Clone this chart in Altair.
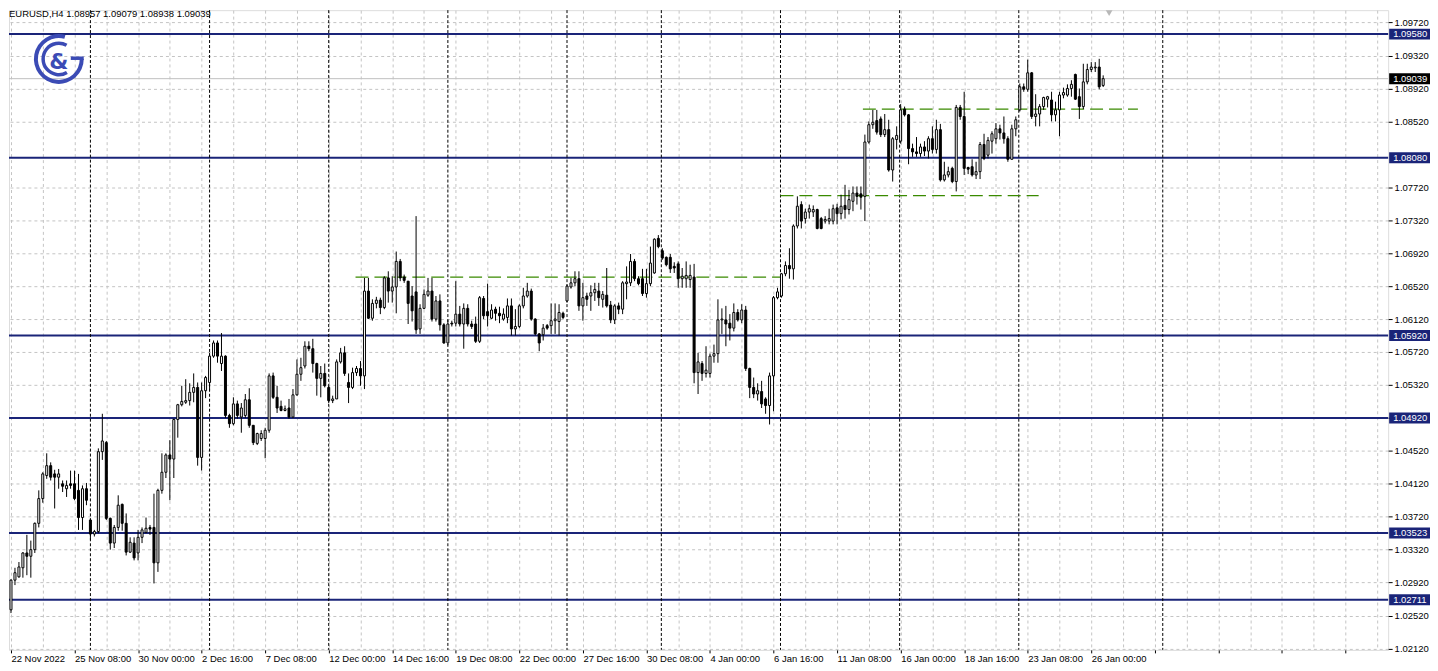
import pandas as pd
import numpy as np
import altair as alt

# ---------------- data ----------------
opens = [1.0259,1.0295,1.0299,1.0310,1.0328,1.0324,1.0332,1.0364,1.0394,1.0422,
         1.0434,1.0424,1.0420,1.0412,1.0406,1.0412,1.0412,1.0404,1.0371,1.0406,
         1.0368,1.0351,1.0354,1.0451,1.0462,1.0370,1.0340,1.0359,1.0387,1.0364,
         1.0329,1.0340,1.0328,1.0347,1.0353,1.0359,1.0359,1.0316,1.0404,1.0426,
         1.0447,1.0442,1.0490,1.0508,1.0511,1.0513,1.0523,1.0529,1.0444,1.0525,
         1.0535,1.0567,1.0583,1.0558,1.0567,1.0495,1.0485,1.0509,1.0493,1.0495,
         1.0514,1.0483,1.0461,1.0467,1.0467,1.0477,1.0543,1.0517,1.0506,1.0501,
         1.0504,1.0493,1.0520,1.0545,1.0555,1.0579,1.0576,1.0558,1.0540,1.0546,
         1.0529,1.0513,1.0515,1.0560,1.0571,1.0535,1.0529,1.0547,1.0552,1.0543,
         1.0646,1.0613,1.0631,1.0635,1.0626,1.0662,1.0646,1.0651,1.0682,1.0663,
         1.0658,1.0640,1.0645,1.0600,1.0625,1.0641,1.0646,1.0612,1.0634,1.0605,
         1.0583,1.0607,1.0607,1.0618,1.0606,1.0625,1.0606,1.0606,1.0585,1.0637,
         1.0621,1.0613,1.0624,1.0619,1.0612,1.0614,1.0628,1.0600,1.0603,1.0628,
         1.0640,1.0646,1.0612,1.0594,1.0593,1.0604,1.0604,1.0610,1.0609,1.0619,
         1.0634,1.0651,1.0656,1.0661,1.0628,1.0640,1.0640,1.0644,1.0646,1.0636,
         1.0641,1.0629,1.0611,1.0628,1.0624,1.0655,1.0656,1.0682,1.0661,1.0661,
         1.0643,1.0655,1.0668,1.0710,1.0695,1.0687,1.0687,1.0676,1.0679,1.0661,
         1.0661,1.0660,1.0663,1.0547,1.0558,1.0546,1.0546,1.0567,1.0570,1.0611,
         1.0611,1.0607,1.0601,1.0620,1.0611,1.0623,1.0552,1.0529,1.0521,1.0524,
         1.0515,1.0507,1.0543,1.0638,1.0640,1.0667,1.0677,1.0673,1.0725,1.0751,
         1.0734,1.0742,1.0742,1.0745,1.0734,1.0731,1.0731,1.0731,1.0747,1.0740,
         1.0750,1.0745,1.0755,1.0765,1.0764,1.0761,1.0827,1.0848,1.0853,1.0855,
         1.0836,1.0842,1.0793,1.0830,1.0828,1.0867,1.0860,1.0819,1.0815,1.0813,
         1.0821,1.0816,1.0831,1.0818,1.0842,1.0781,1.0787,1.0795,1.0779,1.0869,
         1.0858,1.0796,1.0797,1.0787,1.0791,1.0824,1.0811,1.0828,1.0831,1.0843,
         1.0838,1.0831,1.0806,1.0843,1.0866,1.0894,1.0891,1.0911,1.0858,1.0861,
         1.0870,1.0879,1.0878,1.0860,1.0866,1.0884,1.0884,1.0892,1.0909,1.0882,
         1.0870,1.0900,1.0915,1.0917,1.0918,1.08957]
highs = [1.0296,1.0310,1.0317,1.0329,1.0350,1.0343,1.0365,1.0404,1.0426,1.0449,
         1.0438,1.0429,1.0430,1.0416,1.0416,1.0428,1.0428,1.0424,1.0410,1.0413,
         1.0370,1.0356,1.0455,1.0497,1.0464,1.0371,1.0362,1.0398,1.0388,1.0376,
         1.0347,1.0347,1.0356,1.0359,1.0371,1.0362,1.0400,1.0406,1.0449,1.0449,
         1.0465,1.0491,1.0509,1.0531,1.0539,1.0534,1.0546,1.0535,1.0535,1.0543,
         1.0571,1.0586,1.0586,1.0595,1.0568,1.0497,1.0517,1.0513,1.0510,1.0521,
         1.0528,1.0483,1.0474,1.0477,1.0480,1.0546,1.0547,1.0531,1.0513,1.0507,
         1.0515,1.0527,1.0563,1.0565,1.0585,1.0585,1.0588,1.0559,1.0555,1.0558,
         1.0531,1.0519,1.0563,1.0577,1.0579,1.0546,1.0553,1.0555,1.0561,1.0662,
         1.0662,1.0636,1.0639,1.0638,1.0664,1.0670,1.0664,1.0694,1.0685,1.0666,
         1.0658,1.0652,1.0737,1.0630,1.0648,1.0662,1.0662,1.0640,1.0642,1.0607,
         1.0611,1.0610,1.0658,1.0628,1.0631,1.0630,1.0610,1.0615,1.0640,1.0640,
         1.0655,1.0630,1.0627,1.0627,1.0625,1.0637,1.0637,1.0624,1.0630,1.0650,
         1.0656,1.0649,1.0613,1.0595,1.0606,1.0606,1.0631,1.0631,1.0630,1.0621,
         1.0654,1.0662,1.0670,1.0670,1.0656,1.0644,1.0653,1.0656,1.0656,1.0646,
         1.0674,1.0634,1.0630,1.0632,1.0658,1.0676,1.0691,1.0685,1.0664,1.0673,
         1.0673,1.0700,1.0710,1.0714,1.0698,1.0688,1.0691,1.0681,1.0682,1.0674,
         1.0682,1.0678,1.0679,1.0571,1.0561,1.0579,1.0570,1.0581,1.0636,1.0625,
         1.0628,1.0618,1.0631,1.0624,1.0630,1.0628,1.0553,1.0541,1.0534,1.0537,
         1.0517,1.0547,1.0640,1.0650,1.0668,1.0682,1.0698,1.0727,1.0761,1.0755,
         1.0746,1.0751,1.0750,1.0746,1.0736,1.0737,1.0746,1.0751,1.0752,1.0763,
         1.0775,1.0769,1.0773,1.0773,1.0773,1.0836,1.0852,1.0866,1.0866,1.0858,
         1.0861,1.0854,1.0833,1.0846,1.0873,1.0870,1.0861,1.0825,1.0833,1.0825,
         1.0828,1.0834,1.0846,1.0854,1.0849,1.0803,1.0797,1.0797,1.0872,1.0872,
         1.0888,1.0797,1.0806,1.0803,1.0827,1.0837,1.0833,1.0840,1.0850,1.0848,
         1.0858,1.0834,1.0848,1.0858,1.0898,1.0898,1.0927,1.0912,1.0885,1.0873,
         1.0882,1.0883,1.0888,1.0876,1.0888,1.0893,1.0897,1.0902,1.0910,1.0892,
         1.0922,1.0922,1.0924,1.0924,1.0928,1.09079]
lows = [1.0255,1.0289,1.0298,1.0298,1.0301,1.0298,1.0328,1.0359,1.0389,1.0418,
        1.0416,1.0382,1.0406,1.0402,1.0396,1.0406,1.0392,1.0356,1.0356,1.0386,
        1.0344,1.0348,1.0352,1.0441,1.0368,1.0332,1.0334,1.0355,1.0355,1.0325,
        1.0328,1.0319,1.0319,1.0340,1.0352,1.0350,1.0291,1.0305,1.0400,1.0419,
        1.0392,1.0419,1.0468,1.0506,1.0509,1.0507,1.0511,1.0434,1.0428,1.0516,
        1.0525,1.0565,1.0559,1.0549,1.0492,1.0480,1.0483,1.0491,1.0474,1.0492,
        1.0480,1.0459,1.0459,1.0464,1.0443,1.0474,1.0515,1.0498,1.0500,1.0500,
        1.0491,1.0492,1.0519,1.0537,1.0552,1.0573,1.0547,1.0519,1.0517,1.0529,
        1.0510,1.0510,1.0515,1.0558,1.0543,1.0510,1.0527,1.0543,1.0531,1.0527,
        1.0612,1.0610,1.0625,1.0618,1.0624,1.0632,1.0632,1.0619,1.0658,1.0656,
        1.0606,1.0609,1.0594,1.0594,1.0624,1.0639,1.0609,1.0609,1.0598,1.0582,
        1.0580,1.0603,1.0603,1.0603,1.0576,1.0603,1.0600,1.0583,1.0583,1.0612,
        1.0603,1.0612,1.0610,1.0607,1.0610,1.0607,1.0592,1.0592,1.0601,1.0625,
        1.0638,1.0610,1.0592,1.0573,1.0586,1.0599,1.0594,1.0594,1.0592,1.0612,
        1.0632,1.0649,1.0652,1.0622,1.0610,1.0628,1.0622,1.0634,1.0628,1.0626,
        1.0626,1.0607,1.0606,1.0618,1.0618,1.0636,1.0652,1.0658,1.0653,1.0640,
        1.0638,1.0652,1.0667,1.0698,1.0684,1.0676,1.0668,1.0668,1.0650,1.0650,
        1.0650,1.0650,1.0534,1.0521,1.0537,1.0541,1.0541,1.0559,1.0559,1.0594,
        1.0579,1.0586,1.0597,1.0609,1.0607,1.0549,1.0516,1.0516,1.0513,1.0504,
        1.0497,1.0484,1.0500,1.0636,1.0638,1.0664,1.0661,1.0660,1.0722,1.0722,
        1.0728,1.0734,1.0736,1.0721,1.0721,1.0728,1.0727,1.0727,1.0727,1.0733,
        1.0734,1.0739,1.0743,1.0751,1.0745,1.0731,1.0825,1.0843,1.0836,1.0833,
        1.0833,1.0791,1.0779,1.0818,1.0825,1.0858,1.0800,1.0809,1.0809,1.0809,
        1.0810,1.0807,1.0813,1.0813,1.0779,1.0779,1.0784,1.0777,1.0767,1.0854,
        1.0787,1.0788,1.0785,1.0782,1.0782,1.0805,1.0807,1.0813,1.0825,1.0830,
        1.0825,1.0803,1.0806,1.0834,1.0864,1.0888,1.0888,1.0855,1.0846,1.0846,
        1.0866,1.0869,1.0852,1.0852,1.0834,1.0880,1.0882,1.0882,1.0878,1.0855,
        1.0867,1.0897,1.0912,1.0912,1.0891,1.08938]
closes = [1.0295,1.0304,1.0311,1.0328,1.0324,1.0332,1.0364,1.0394,1.0424,1.0434,
          1.0420,1.0420,1.0424,1.0409,1.0410,1.0410,1.0394,1.0371,1.0406,1.0392,
          1.0351,1.0354,1.0451,1.0464,1.0370,1.0340,1.0359,1.0386,1.0364,1.0329,
          1.0341,1.0322,1.0347,1.0356,1.0358,1.0357,1.0316,1.0404,1.0426,1.0447,
          1.0442,1.0490,1.0508,1.0512,1.0513,1.0523,1.0529,1.0444,1.0525,1.0541,
          1.0567,1.0583,1.0567,1.0567,1.0495,1.0485,1.0509,1.0495,1.0504,1.0514,
          1.0483,1.0462,1.0473,1.0473,1.0477,1.0543,1.0517,1.0504,1.0501,1.0503,
          1.0493,1.0520,1.0545,1.0553,1.0579,1.0576,1.0558,1.0540,1.0546,1.0531,
          1.0513,1.0515,1.0560,1.0571,1.0546,1.0529,1.0547,1.0552,1.0543,1.0646,
          1.0613,1.0631,1.0635,1.0626,1.0662,1.0646,1.0651,1.0682,1.0662,1.0659,
          1.0631,1.0622,1.0599,1.0625,1.0642,1.0646,1.0612,1.0634,1.0605,1.0583,
          1.0606,1.0606,1.0618,1.0606,1.0625,1.0606,1.0603,1.0585,1.0638,1.0616,
          1.0616,1.0623,1.0619,1.0616,1.0618,1.0628,1.0600,1.0603,1.0628,1.0640,
          1.0646,1.0612,1.0594,1.0583,1.0601,1.0601,1.0610,1.0612,1.0620,1.0614,
          1.0652,1.0656,1.0661,1.0628,1.0638,1.0636,1.0644,1.0648,1.0638,1.0642,
          1.0628,1.0611,1.0628,1.0624,1.0656,1.0657,1.0682,1.0661,1.0655,1.0643,
          1.0655,1.0680,1.0709,1.0700,1.0686,1.0678,1.0673,1.0674,1.0661,1.0664,
          1.0665,1.0665,1.0547,1.0560,1.0546,1.0550,1.0567,1.0570,1.0611,1.0612,
          1.0606,1.0601,1.0620,1.0611,1.0623,1.0552,1.0529,1.0521,1.0525,1.0509,
          1.0507,1.0543,1.0638,1.0645,1.0667,1.0677,1.0673,1.0725,1.0749,1.0731,
          1.0742,1.0746,1.0745,1.0722,1.0722,1.0733,1.0734,1.0746,1.0740,1.0749,
          1.0745,1.0757,1.0765,1.0761,1.0760,1.0827,1.0848,1.0851,1.0839,1.0836,
          1.0842,1.0793,1.0831,1.0835,1.0866,1.0860,1.0819,1.0815,1.0813,1.0821,
          1.0816,1.0831,1.0818,1.0842,1.0781,1.0787,1.0791,1.0779,1.0869,1.0858,
          1.0795,1.0794,1.0787,1.0791,1.0824,1.0807,1.0829,1.0837,1.0843,1.0838,
          1.0831,1.0806,1.0843,1.0854,1.0894,1.0891,1.0911,1.0858,1.0861,1.0870,
          1.0881,1.0882,1.0860,1.0866,1.0884,1.0887,1.0892,1.0897,1.0879,1.0870,
          1.0900,1.0915,1.0918,1.0918,1.0894,1.09039]

time_labels = ["22 Nov 2022", "25 Nov 08:00", "30 Nov 00:00", "2 Dec 16:00", "7 Dec 08:00",
               "12 Dec 00:00", "14 Dec 16:00", "19 Dec 08:00", "22 Dec 00:00", "27 Dec 16:00",
               "30 Dec 08:00", "4 Jan 00:00", "6 Jan 16:00", "11 Jan 08:00", "16 Jan 00:00",
               "18 Jan 16:00", "23 Jan 08:00", "26 Jan 00:00"]
price_ticks = [1.0212, 1.0252, 1.0292, 1.0332, 1.0372, 1.0412, 1.0452, 1.0492, 1.0532,
               1.0572, 1.0612, 1.0652, 1.0692, 1.0732, 1.0772, 1.0852, 1.0892, 1.0932, 1.0972]
level_prices = [1.0958, 1.0808, 1.0592, 1.0492, 1.03523, 1.02711]
level_labels = ["1.09580", "1.08080", "1.05920", "1.04920", "1.03523", "1.02711"]
last_price = 1.09039
green_prices = [1.0663, 1.0762, 1.0867]
green_start = [86.75, 193.75, 214.5]
green_end = [193.75, 258.75, 283.75]
separators = [20, 50, 80, 110, 140, 163.75, 193.75, 223.75, 253.75, 290]
symbol = "EURUSD,H4"

# ---------------- styling ----------------
W, H = 1384, 642
FONT = "Liberation Sans"
FS = 9.5
NAVY = "#1a2478"
GREEN = "#3a8a00"
GRID = "#c4c4c4"
BLUE = "#3b4bb5"
PX = (1.09871 - 1.02103) / H  # price per pixel

xs = alt.Scale(domain=[-0.5, 346.75], nice=False, zero=False, padding=0)
ys = alt.Scale(domain=[1.02103, 1.09871], nice=False, zero=False, padding=0)

labels_js = "[" + ",".join('"%s"' % t for t in time_labels) + "]"
xax = alt.Axis(values=list(range(0, 347, 8)),
               labelExpr=f"(datum.value % 16 == 0 && datum.value / 16 < {len(time_labels)}) ? {labels_js}[datum.value / 16] : ''",
               grid=True, gridDash=[3, 3], gridColor=GRID, gridWidth=1,
               domain=False, ticks=True, tickSize=3, tickColor="black",
               tickOpacity={"condition": {"test": "datum.value % 16 == 0", "value": 1}, "value": 0},
               labelAlign="left", labelPadding=1, labelFont=FONT, labelFontSize=FS,
               labelColor="black", labelOverlap=False, labelFlush=False, title=None)
yax = alt.Axis(values=price_ticks, format=".5f", orient="right",
               grid=True, gridDash=[3, 3], gridColor=GRID, gridWidth=1,
               domain=False, ticks=True, tickSize=4, tickColor="black",
               labelPadding=2, labelFont=FONT, labelFontSize=FS, labelColor="black",
               labelOverlap=False, title=None)

n = len(opens)
df = pd.DataFrame({"i": np.arange(n), "o": opens, "h": highs, "l": lows, "c": closes})
df["dir"] = np.where(df["c"] >= df["o"], "up", "down")

lv = pd.DataFrame({"p": level_prices, "t": level_labels})
lv["top"] = lv["p"] + 5.5 * PX
lv["bot"] = lv["p"] - 5.5 * PX
lp = pd.DataFrame({"p": [last_price], "t": [f"{last_price:.5f}"]})
lp["top"] = lp["p"] + 5.5 * PX
lp["bot"] = lp["p"] - 5.5 * PX
gr = pd.DataFrame({"y": green_prices, "x0": green_start, "x1": green_end})
sp = pd.DataFrame({"s": separators})
one = pd.DataFrame({"a": [0]})

wicks = alt.Chart(df).mark_rule(color="black", strokeWidth=1).encode(
    x=alt.X("i:Q", scale=xs, axis=xax),
    y=alt.Y("l:Q", scale=ys, axis=yax),
    y2="h:Q")
bodies = alt.Chart(df).mark_bar(size=2, stroke="black", strokeWidth=1).encode(
    x=alt.X("i:Q", scale=xs, axis=xax),
    y=alt.Y("o:Q", scale=ys, axis=yax),
    y2="c:Q",
    fill=alt.Fill("dir:N", scale=alt.Scale(domain=["up", "down"], range=["white", "black"]), legend=None))

levels = alt.Chart(lv).mark_rule(color=NAVY, strokeWidth=2).encode(
    y=alt.Y("p:Q", scale=ys, axis=yax))
lastline = alt.Chart(lp).mark_rule(color="#c0c0c0", strokeWidth=1).encode(
    y=alt.Y("p:Q", scale=ys, axis=yax))
seps = alt.Chart(sp).mark_rule(color="black", strokeWidth=1, strokeDash=[3, 2]).encode(
    x=alt.X("s:Q", scale=xs, axis=xax))
greens = alt.Chart(gr).mark_rule(color=GREEN, strokeWidth=1.3, strokeDash=[13, 6]).encode(
    x=alt.X("x0:Q", scale=xs, axis=xax), x2="x1:Q",
    y=alt.Y("y:Q", scale=ys, axis=yax))

lv_rect = alt.Chart(lv).mark_rect(color=NAVY).encode(
    x=alt.value(W + 1), x2=alt.value(W + 42),
    y=alt.Y("top:Q", scale=ys, axis=yax), y2="bot:Q")
lv_text = alt.Chart(lv).mark_text(align="left", baseline="middle", color="white",
                                  font=FONT, fontSize=FS).encode(
    x=alt.value(W + 5), y=alt.Y("p:Q", scale=ys, axis=yax), text="t:N")
lp_rect = alt.Chart(lp).mark_rect(color="black").encode(
    x=alt.value(W + 1), x2=alt.value(W + 42),
    y=alt.Y("top:Q", scale=ys, axis=yax), y2="bot:Q")
lp_text = alt.Chart(lp).mark_text(align="left", baseline="middle", color="white",
                                  font=FONT, fontSize=FS).encode(
    x=alt.value(W + 5), y=alt.Y("p:Q", scale=ys, axis=yax), text="t:N")

header = alt.Chart(pd.DataFrame({"t": [f"{symbol}  {opens[-1]:.5f} {highs[-1]:.5f} {lows[-1]:.5f} {closes[-1]:.5f}"]})
                   ).mark_text(align="left", baseline="middle", font=FONT, fontSize=FS, color="black").encode(
    x=alt.value(0), y=alt.value(4), text="t:N")

logo_outer = alt.Chart(one).mark_arc(radius=25, radius2=21, theta=1.5708, theta2=6.55, color=BLUE).encode(
    x=alt.value(50), y=alt.value(49))
logo_inner = alt.Chart(one).mark_arc(radius=17.5, radius2=14, theta=2.6, theta2=6.8, color=BLUE).encode(
    x=alt.value(50), y=alt.value(49))
logo_bar = alt.Chart(one).mark_rect(color=BLUE).encode(
    x=alt.value(62), x2=alt.value(75), y=alt.value(46.5), y2=alt.value(50))
logo_amp = alt.Chart(one).mark_text(text="&", font="DejaVu Sans", fontSize=22, fontWeight="bold",
                                    color=BLUE, align="center", baseline="middle").encode(
    x=alt.value(50), y=alt.value(52))
marker = alt.Chart(one).mark_point(shape="triangle-down", filled=True, color="#b8b8b8", size=45, opacity=1).encode(
    x=alt.value(1104), y=alt.value(3))

chart = alt.layer(
    levels, lastline, seps, greens, wicks, bodies,
    lv_rect, lv_text, lp_rect, lp_text, header,
    logo_outer, logo_inner, logo_bar, logo_amp, marker
).properties(
    width=W, height=H, padding={"left": 0, "top": 0, "right": 0, "bottom": 0}
).configure_view(stroke="black", strokeWidth=1).configure(background="white")

chart.save("out.html", embed_options={"renderer": "svg", "actions": False})
